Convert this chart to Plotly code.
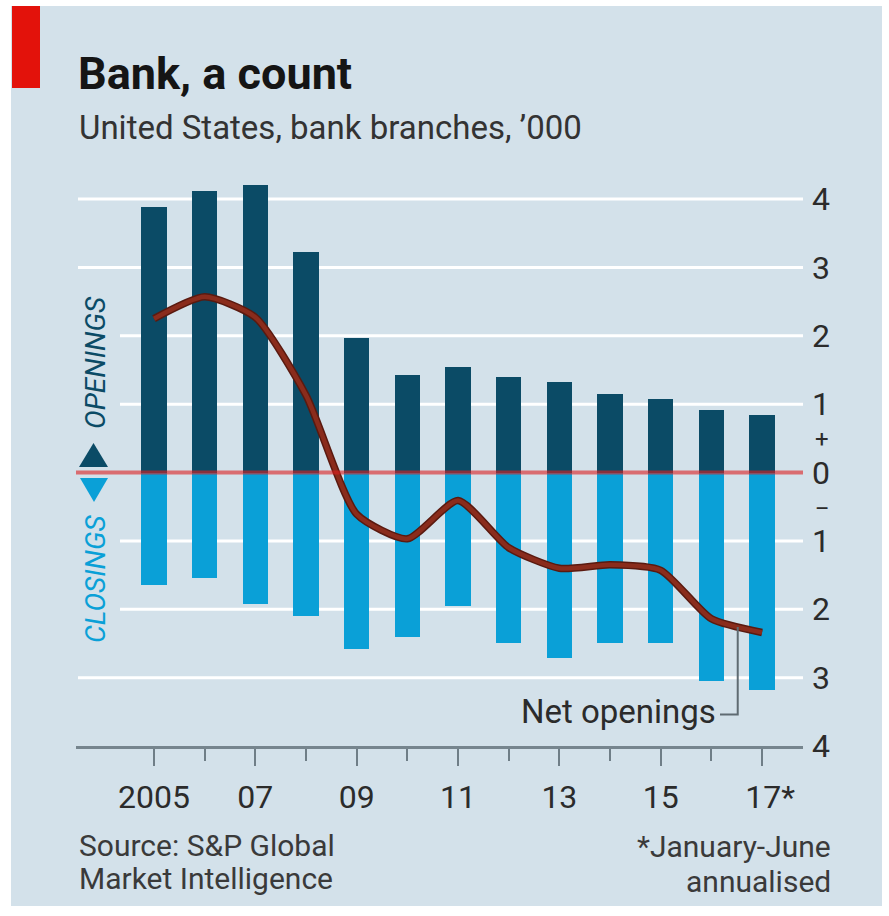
import plotly.graph_objects as go

# US bank branches, thousands
years = [2005, 2006, 2007, 2008, 2009, 2010, 2011, 2012, 2013, 2014, 2015, 2016, 2017]
openings = [3.89, 4.11, 4.20, 3.23, 1.97, 1.43, 1.54, 1.40, 1.32, 1.15, 1.07, 0.91, 0.84]
closings = [1.64, 1.54, 1.93, 2.10, 2.58, 2.40, 1.95, 2.50, 2.72, 2.50, 2.50, 3.05, 3.18]
net_openings = [2.25, 2.57, 2.27, 1.13, -0.61, -0.97, -0.41, -1.10, -1.40, -1.35, -1.43, -2.14, -2.34]

x_tickvals = [2005, 2007, 2009, 2011, 2013, 2015, 2017]
x_ticktext = ["2005", "07", "09", "11", "13", "15", "\u200217*"]
x_minor = [2006, 2008, 2010, 2012, 2014, 2016]
y_tickvals = [4, 3, 2, 1, 0, -1, -2, -3, -4]
y_ticktext = ["4", "3", "2", "1", "0", "1", "2", "3", "4"]

W, H = 889, 916
L, R, T, B = 76, 803, 180, 746
BG = "#d3e1ea"
DARK = "#0b4b66"
LIGHT = "#0aa0d7"
TEXT = "#2b2b2b"
FONT = "Roboto"


def px(x):
    return (x - L) / (R - L)


def py(y):
    return (B - y) / (B - T)


fig = go.Figure()

fig.add_trace(go.Bar(x=years, y=openings, width=0.5, marker=dict(color=DARK, line_width=0),
                     hoverinfo="skip"))
fig.add_trace(go.Bar(x=years, y=[-c for c in closings], width=0.5,
                     marker=dict(color=LIGHT, line_width=0), hoverinfo="skip"))
fig.add_trace(go.Scatter(x=years, y=net_openings, mode="lines",
                         line=dict(color="#5a1a10", width=7.5, shape="spline", smoothing=0.6),
                         hoverinfo="skip"))
fig.add_trace(go.Scatter(x=years, y=net_openings, mode="lines",
                         line=dict(color="#8a2c1c", width=4.5, shape="spline", smoothing=0.6),
                         hoverinfo="skip"))

shapes = []
# white gridlines; those beside the side labels start further right
for v in [4, 3, -3]:
    shapes.append(dict(type="line", xref="paper", yref="y", x0=px(78), x1=1, y0=v, y1=v,
                       line=dict(color="white", width=3), layer="below"))
for v in [2, 1, -1, -2]:
    shapes.append(dict(type="line", xref="paper", yref="y", x0=px(120), x1=1, y0=v, y1=v,
                       line=dict(color="white", width=3), layer="below"))
# zero line
shapes.append(dict(type="line", xref="paper", yref="y", x0=0, x1=1, y0=0, y1=0,
                   line=dict(color="rgba(222,30,30,0.6)", width=4), layer="above"))
# leader for the net openings label
shapes.append(dict(type="path", xref="x", yref="y",
                   path="M 2016.17,-3.54 L 2016.52,-3.54 L 2016.52,-2.26",
                   line=dict(color="#5f6b72", width=2), layer="above"))
# side triangles
shapes.append(dict(type="path", xref="paper", yref="paper",
                   path=f"M {px(93.5)},{py(443)} L {px(108)},{py(467)} L {px(79)},{py(467)} Z",
                   fillcolor=DARK, line_width=0, layer="above"))
shapes.append(dict(type="path", xref="paper", yref="paper",
                   path=f"M {px(80)},{py(478)} L {px(108)},{py(478)} L {px(94)},{py(502)} Z",
                   fillcolor=LIGHT, line_width=0, layer="above"))
# red tab
shapes.append(dict(type="rect", xref="paper", yref="paper", x0=px(12), x1=px(40), y0=py(6), y1=py(88),
                   fillcolor="#e3120b", line_width=0, layer="above"))
# white frame
for x0, x1, y0, y1 in [(0, 11, 0, H), (882, W, 0, H), (0, W, 0, 6), (0, W, 906, H)]:
    shapes.append(dict(type="rect", xref="paper", yref="paper", x0=px(x0), x1=px(x1),
                       y0=py(y0), y1=py(y1), fillcolor="white", line_width=0, layer="above"))

annotations = [
    dict(text="<b>Bank, a count</b>", x=px(76), y=py(73), xanchor="left", yanchor="middle",
         font=dict(family=FONT, size=45, color="#151515")),
    dict(text="United States, bank branches, \u2019000", x=px(77), y=py(127), xanchor="left",
         yanchor="middle", font=dict(family=FONT, size=33, color="#333333")),
    dict(text="<i>OPENINGS</i>", x=px(95), y=py(363), textangle=-90, xanchor="center",
         yanchor="middle", font=dict(family=FONT, size=28, color=DARK)),
    dict(text="<i>CLOSINGS</i>", x=px(95), y=py(579), textangle=-90, xanchor="center",
         yanchor="middle", font=dict(family=FONT, size=28, color=LIGHT)),
    # sign markers between the right-hand tick labels
    dict(text="+", x=px(822), y=py(439), xanchor="center", yanchor="middle",
         font=dict(family=FONT, size=24, color=TEXT)),
    dict(text="\u2013", x=px(822), y=py(508), xanchor="center", yanchor="middle",
         font=dict(family=FONT, size=22, color=TEXT)),
    dict(text="Net openings", x=2016.13, y=-3.5, xref="x", yref="y", xanchor="right",
         yanchor="middle", font=dict(family=FONT, size=33, color=TEXT)),
    dict(text="Source: S&P Global", x=px(77), y=py(845), xanchor="left", yanchor="middle",
         font=dict(family=FONT, size=30, color="#3a3a3a")),
    dict(text="Market Intelligence", x=px(77), y=py(879), xanchor="left", yanchor="middle",
         font=dict(family=FONT, size=30, color="#3a3a3a")),
    dict(text="*January-June", x=px(833), y=py(846), xanchor="right", yanchor="middle",
         font=dict(family=FONT, size=30, color="#3a3a3a")),
    dict(text="annualised", x=px(833), y=py(881), xanchor="right", yanchor="middle",
         font=dict(family=FONT, size=30, color="#3a3a3a")),
]
for a in annotations:
    a.setdefault("xref", "paper")
    a.setdefault("yref", "paper")
    a["showarrow"] = False

fig.update_layout(
    width=W, height=H,
    margin=dict(l=L, r=W - R, t=T, b=H - B, pad=0),
    paper_bgcolor=BG, plot_bgcolor="rgba(0,0,0,0)",
    barmode="relative", bargap=0, showlegend=False,
    shapes=shapes, annotations=annotations,
    xaxis=dict(range=[2003.461, 2017.808], tickvals=x_tickvals, ticktext=x_ticktext,
               ticks="outside", ticklen=17, tickwidth=2, tickcolor="#6f7e87",
               showline=True, linecolor="#76858e", linewidth=3, showgrid=False, zeroline=False,
               tickfont=dict(family=FONT, size=32, color=TEXT), ticklabelstandoff=4,
               minor=dict(tickvals=x_minor, ticks="outside", ticklen=12, tickwidth=2,
                          tickcolor="#6f7e87", showgrid=False)),
    yaxis=dict(range=[-4, 4.278], side="right", tickvals=y_tickvals, ticktext=y_ticktext,
               ticks="", showgrid=False, zeroline=False, showline=False,
               tickfont=dict(family=FONT, size=32, color=TEXT), ticklabelstandoff=8),
)

fig.write_html("out.html")
